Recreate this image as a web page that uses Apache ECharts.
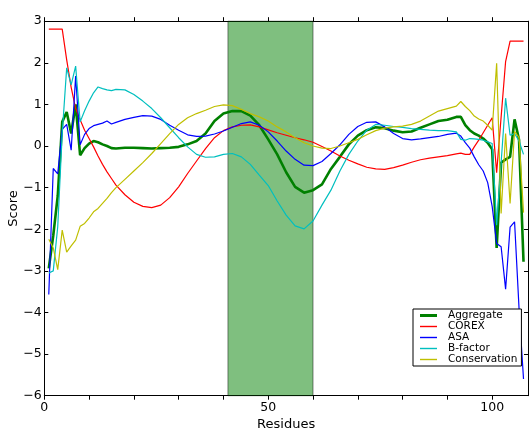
<!DOCTYPE html>
<html><head><meta charset="utf-8">
<script src="https://cdn.jsdelivr.net/npm/echarts@6/dist/echarts.min.js"></script>
<style>html,body{margin:0;padding:0;background:#fff}#c{width:529px;height:433px}</style>
</head><body><div id="c"></div>
<script>
// ---- data ----
const residues = [1,2,3,4,5,6,7,8,9,10,11,12,13,14,15,16,18,20,22,24,26,28,30,32,34,36,38,40,42,44,46,48,50,52,54,56,58,60,62,64,66,68,70,72,74,76,78,80,82,84,86,88,90,92,93,94,95,96,97,98,99,100,101,102,103,104,105,106,107];
const aggregate = [-2.94,-2.15,-1.2,0.58,0.82,0.3,1.0,-0.22,-0.05,0.06,0.12,0.09,0.04,0.0,-0.05,-0.06,-0.04,-0.04,-0.05,-0.06,-0.05,-0.04,-0.02,0.04,0.12,0.3,0.6,0.78,0.84,0.84,0.73,0.5,0.16,-0.2,-0.63,-0.98,-1.12,-1.06,-0.92,-0.55,-0.26,0.04,0.25,0.38,0.45,0.43,0.37,0.33,0.35,0.44,0.52,0.6,0.63,0.7,0.7,0.5,0.38,0.3,0.25,0.18,0.08,-0.08,-2.45,-0.4,-0.32,-0.26,0.64,0.15,-2.78];
const corex = [2.81,2.81,2.81,2.81,2.07,1.41,0.9,0.63,0.38,0.18,-0.02,-0.24,-0.44,-0.62,-0.78,-0.94,-1.17,-1.35,-1.45,-1.48,-1.42,-1.24,-0.98,-0.66,-0.36,-0.06,0.2,0.37,0.46,0.5,0.51,0.46,0.39,0.32,0.26,0.2,0.15,0.09,-0.01,-0.12,-0.24,-0.34,-0.43,-0.51,-0.55,-0.56,-0.52,-0.46,-0.39,-0.33,-0.29,-0.26,-0.23,-0.19,-0.17,-0.2,-0.2,-0.02,0.14,0.32,0.5,0.68,-0.64,0.7,2.03,2.52,2.52,2.52,2.52];
const asa = [-3.57,-0.54,-0.67,0.4,0.52,-0.1,1.68,0.03,0.28,0.42,0.49,0.52,0.55,0.6,0.53,0.57,0.64,0.69,0.73,0.72,0.64,0.5,0.38,0.27,0.23,0.24,0.29,0.36,0.45,0.54,0.58,0.5,0.34,0.12,-0.12,-0.32,-0.46,-0.47,-0.37,-0.18,0.03,0.28,0.47,0.57,0.58,0.46,0.3,0.18,0.15,0.17,0.2,0.23,0.28,0.31,0.24,0.08,-0.05,-0.26,-0.45,-0.6,-0.88,-1.45,-2.34,-2.42,-3.44,-1.95,-1.82,-3.9,-5.6];
const bfactor = [-3.05,-3.0,-1.94,0.3,1.88,1.47,1.92,0.58,0.85,1.08,1.28,1.42,1.38,1.35,1.33,1.36,1.35,1.24,1.08,0.9,0.68,0.44,0.2,-0.02,-0.2,-0.27,-0.26,-0.2,-0.18,-0.26,-0.44,-0.7,-0.95,-1.32,-1.66,-1.92,-1.99,-1.8,-1.42,-1.06,-0.6,-0.2,0.12,0.38,0.52,0.5,0.47,0.45,0.42,0.4,0.38,0.37,0.37,0.34,0.16,0.14,0.18,0.17,0.16,0.14,0.1,0.06,-1.9,-0.4,1.15,0.26,0.3,0.12,-0.2];
const conservation = [-2.24,-2.45,-2.97,-2.02,-2.55,-2.4,-2.26,-1.93,-1.86,-1.73,-1.58,-1.5,-1.38,-1.26,-1.12,-1.0,-0.8,-0.6,-0.4,-0.18,0.06,0.3,0.52,0.68,0.78,0.86,0.95,0.99,0.97,0.88,0.78,0.7,0.6,0.46,0.34,0.2,0.08,0.0,-0.05,-0.06,0.0,0.08,0.16,0.27,0.37,0.43,0.46,0.48,0.52,0.6,0.72,0.84,0.9,0.96,1.07,0.95,0.85,0.72,0.65,0.6,0.5,0.38,1.99,-1.62,0.3,-1.38,0.35,0.2,-1.6];
const seriesNames = ['Aggregate','COREX','ASA','B-factor','Conservation'];
const highlightSpan = [41, 60];
const xTicks = [0,10,20,30,40,50,60,70,80,90,100];
const xTickLabels = [0,50,100];
const yTicks = [-6,-5,-4,-3,-2,-1,0,1,2,3];

// ---- chart ----
const font = 'DejaVu Sans';
const colors = ['#008000','#ff0000','#0000ff','#00bfbf','#bfbf00'];
const widths = [2.6,1.2,1.2,1.2,1.2];
const allData = [aggregate, corex, asa, bfactor, conservation];
function pairs(ys){ return residues.map((x,i)=>[x, ys[i]]); }
const axisCommonX = {
  type:'value', min:0, max:108, interval:10,
  axisLine:{onZero:false, lineStyle:{color:'#000', width:1}},
  axisTick:{inside:false, length:4, lineStyle:{color:'#000'}, customValues:xTicks},
  splitLine:{show:false}
};
const axisCommonY = {
  type:'value', min:-6, max:3, interval:1,
  axisLine:{onZero:false, lineStyle:{color:'#000', width:1}},
  axisTick:{inside:true, length:4, lineStyle:{color:'#000'}, customValues:yTicks},
  splitLine:{show:false}
};
const series = allData.map((d,i)=>{
  const s = {
    name: seriesNames[i], type:'line', data: pairs(d), symbol:'none', smooth:false,
    lineStyle:{color:colors[i], width:widths[i]}, itemStyle:{color:colors[i]},
    xAxisIndex:0, yAxisIndex:0, animation:false, silent:true
  };
  if (i===0) {
    s.markArea = {
      silent:true,
      itemStyle:{color:'rgba(0,128,0,0.5)', borderColor:'rgba(0,0,0,0.45)', borderWidth:1},
      data:[[{xAxis:highlightSpan[0]},{xAxis:highlightSpan[1]}]]
    };
  }
  return s;
});
const chart = echarts.init(document.getElementById('c'), null, {renderer:'canvas'});
chart.setOption({
  animation:false,
  backgroundColor:'#fff',
  textStyle:{fontFamily:font},
  grid:{left:44.3, right:1, top:21.2, bottom:37.3, containLabel:false, outerBoundsMode:'none'},
  xAxis:[
    Object.assign({}, axisCommonX, {position:'bottom', name:'Residues', nameLocation:'middle', nameGap:22.5, nameMoveOverlap:false,
      nameTextStyle:{fontSize:13, color:'#000', fontFamily:font},
      axisLabel:{margin:6, fontSize:12.5, color:'#000', fontFamily:font, customValues:xTickLabels}}),
    Object.assign({}, axisCommonX, {position:'top', axisLabel:{show:false}})
  ],
  yAxis:[
    Object.assign({}, axisCommonY, {position:'left', name:'Score', nameLocation:'middle', nameGap:24, nameRotate:90, nameMoveOverlap:false,
      nameTextStyle:{fontSize:13, color:'#000', fontFamily:font},
      axisLabel:{margin:2.5, fontSize:12.5, color:'#000', fontFamily:font, customValues:yTicks,
        formatter:v=>String(v).replace('-','\u2212')}}),
    Object.assign({}, axisCommonY, {position:'right', axisLabel:{show:false}})
  ],
  legend:{
    orient:'vertical', left:413, top:309, padding:[1,4,1,7],
    itemWidth:17, itemHeight:16, itemGap:0,
    backgroundColor:'#fff', borderColor:'#000', borderWidth:1, borderRadius:0,
    textStyle:{fontSize:10.5, color:'#000', fontFamily:font, padding:[0,0,0,6]},
    selectedMode:false,
    data: seriesNames.map((n,i)=>({name:n, icon: i===0 ? 'path://M0,0H17V3H0Z' : 'path://M0,0H17V1.4H0Z'}))
  },
  series: series
});
</script></body></html>
